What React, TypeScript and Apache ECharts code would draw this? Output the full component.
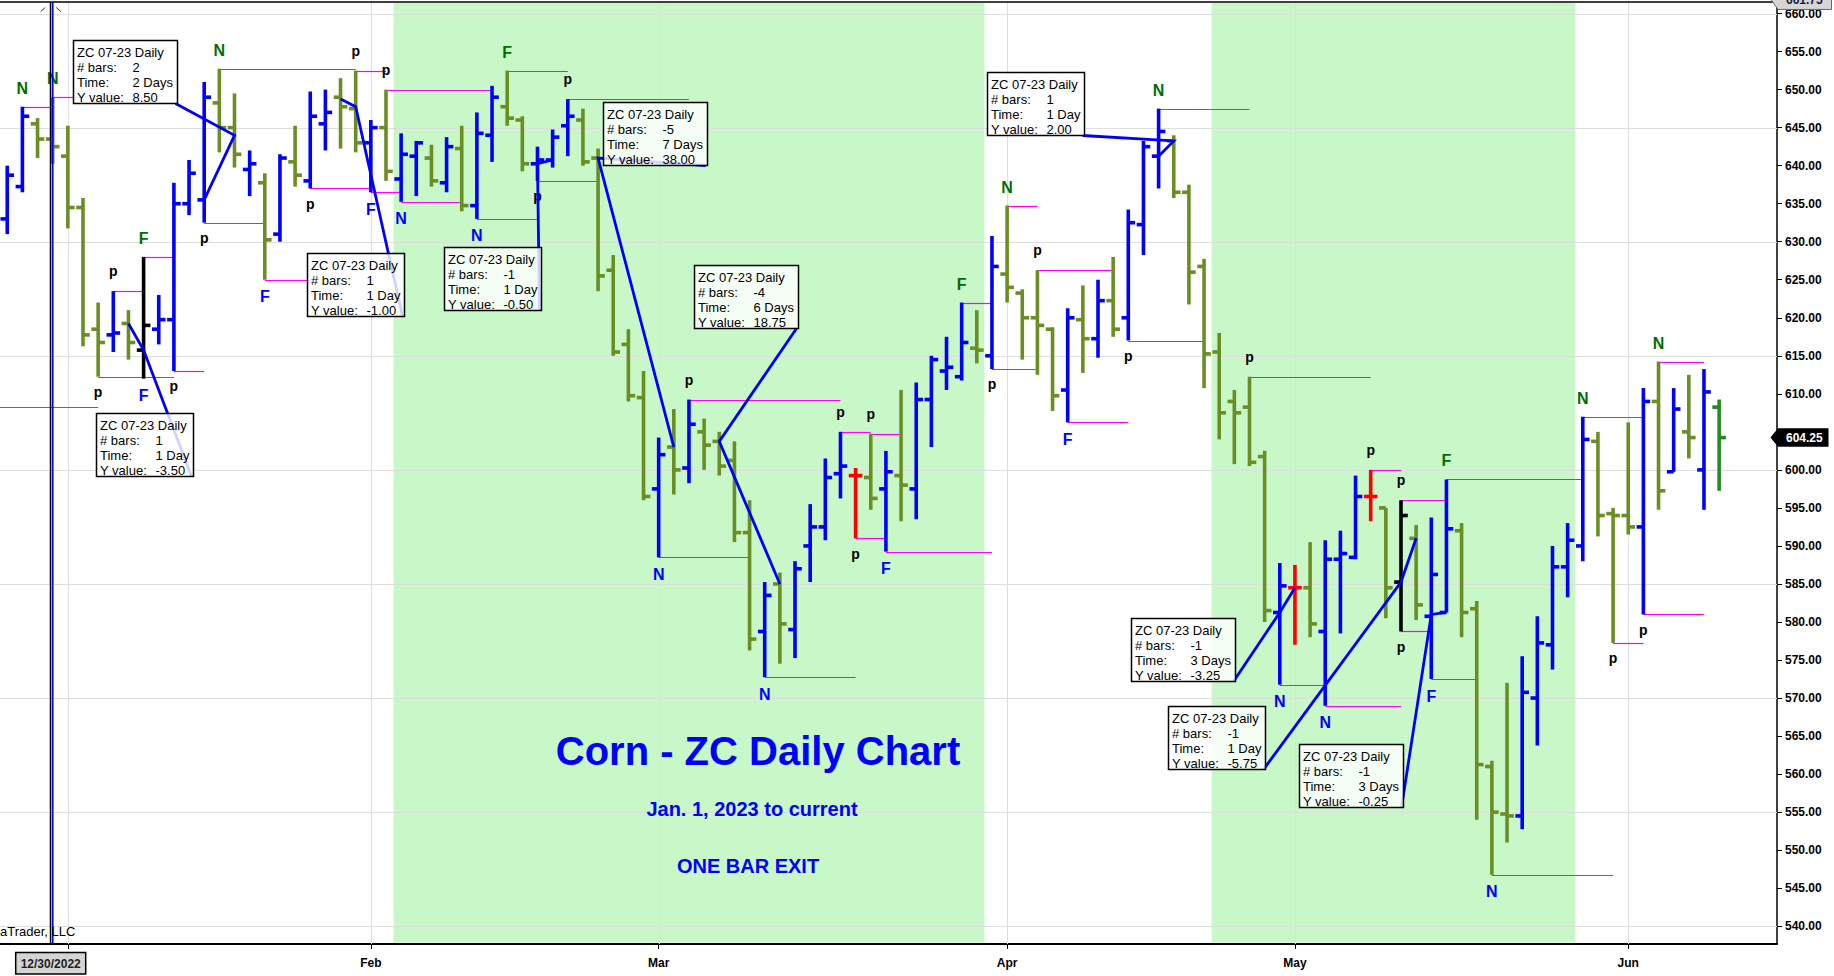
import React, { useEffect, useRef } from 'react';
import * as echarts from 'echarts';

// ---------------- DATA ----------------
// Daily OHLC bars, index 0 = 12/27/2022 ... index 113 = 6/9/2023
const opens = [
  633.0, 637.25, 645.5, 643.5, 641.25, 634.5, 618.5, 617.75, 619.25, 615.75,
  618.5, 619.75, 635.0, 635.5, 648.25, 645.0, 639.5, 637.75, 631.0, 640.5,
  638.0, 645.5, 649.0, 647.5, 643.0, 645.0, 638.25, 641.25, 641.0, 637.75,
  642.25, 634.75, 644.0, 647.75, 646.0, 640.25, 640.75, 645.25, 646.0, 641.0,
  626.25, 616.5, 609.5, 597.5, 603.0, 600.25, 605.0, 603.75, 601.25, 591.75,
  578.75, 585.0, 579.0, 590.0, 592.5, 599.5, 599.25, 599.0, 597.5, 599.25,
  597.5, 609.25, 613.0, 612.25, 616.0, 615.0, 625.75, 623.25, 620.0, 618.5,
  610.5, 619.75, 617.25, 622.25, 620.0, 632.25, 641.25, 643.25, 636.5, 626.75,
  615.5, 609.0, 608.25, 601.75, 581.25, 584.5, 584.5, 578.75, 588.25, 588.5,
  596.5, 595.0, 585.25, 591.0, 580.75, 581.25, 592.0, 581.75, 561.0, 554.75,
  554.5, 570.0, 577.0, 587.25, 590.0, 603.75, 594.25, 594.0, 592.5, 609.0,
  599.75, 605.0, 600.0, 608.25,
];
const highs = [
  640.0, 647.75, 646.25, 649.0, 645.25, 635.75, 622.0, 623.5, 621.0, 628.0,
  623.0, 637.75, 640.75, 651.0, 652.75, 649.5, 642.0, 639.0, 641.5, 645.25,
  649.75, 650.0, 651.5, 652.5, 646.0, 650.0, 644.25, 643.25, 642.75, 643.75,
  645.25, 647.0, 650.5, 652.5, 646.5, 642.5, 644.75, 648.75, 647.5, 642.25,
  628.25, 618.5, 613.0, 604.25, 608.0, 609.25, 606.75, 605.0, 603.75, 596.0,
  585.25, 586.5, 588.0, 595.5, 601.5, 605.0, 600.25, 604.75, 602.5, 610.5,
  611.5, 615.0, 617.5, 622.0, 621.0, 630.75, 634.75, 623.75, 626.25, 618.75,
  621.25, 624.25, 625.0, 628.0, 634.25, 643.25, 647.5, 644.0, 637.5, 627.75,
  618.0, 610.5, 612.25, 602.5, 587.75, 587.5, 590.5, 590.75, 592.0, 599.25,
  600.0, 595.0, 596.0, 592.75, 593.75, 598.75, 593.0, 582.75, 561.75, 572.0,
  575.5, 580.75, 590.0, 593.0, 607.0, 605.0, 595.0, 606.25, 610.75, 614.25,
  610.75, 612.5, 613.25, 609.25,
];
const lows = [
  631.0, 636.5, 641.0, 640.25, 631.75, 616.25, 612.25, 615.5, 614.5, 612.0,
  616.5, 613.0, 633.5, 632.5, 641.75, 639.75, 636.0, 625.0, 630.0, 637.25,
  637.0, 642.0, 642.25, 641.75, 636.5, 638.0, 635.25, 636.0, 637.25, 636.5,
  634.0, 633.0, 640.5, 645.25, 639.25, 638.0, 639.75, 641.25, 640.0, 623.5,
  615.0, 609.0, 596.0, 588.5, 596.75, 598.25, 600.0, 599.25, 590.5, 576.25,
  572.75, 574.5, 575.25, 585.25, 590.75, 596.25, 591.0, 594.75, 589.25, 593.25,
  593.5, 603.0, 610.5, 611.75, 614.0, 613.25, 622.0, 614.5, 612.5, 607.75,
  606.25, 612.75, 614.75, 617.5, 617.0, 628.25, 637.0, 635.75, 621.75, 610.75,
  604.0, 600.75, 600.5, 580.0, 571.75, 577.0, 578.0, 569.0, 578.5, 588.25,
  593.25, 580.5, 578.75, 580.25, 572.5, 581.25, 578.0, 554.0, 546.75, 551.0,
  552.75, 563.75, 573.75, 583.25, 588.0, 591.25, 577.25, 591.5, 581.0, 594.75,
  599.75, 601.5, 594.75, 597.25,
];
const closes = [
  638.75, 646.5, 643.5, 642.5, 634.5, 617.75, 616.75, 618.0, 616.75, 619.0,
  619.75, 635.0, 639.0, 649.0, 645.0, 641.5, 640.25, 630.25, 641.0, 638.75,
  646.5, 647.0, 647.75, 643.0, 645.0, 639.25, 641.5, 643.0, 638.0, 642.5,
  634.75, 644.25, 649.0, 646.25, 640.25, 640.75, 643.75, 646.5, 640.5, 625.5,
  615.5, 609.75, 596.5, 602.0, 600.0, 606.0, 603.25, 600.5, 591.75, 577.75,
  583.5, 579.75, 587.0, 592.5, 599.0, 600.5, 599.25, 596.25, 599.75, 598.0,
  609.25, 614.5, 613.5, 616.75, 615.75, 626.75, 624.0, 620.0, 619.0, 609.75,
  620.0, 617.25, 622.25, 618.5, 632.5, 642.5, 644.5, 636.5, 626.0, 615.25,
  607.5, 607.5, 601.0, 581.5, 584.75, 584.5, 579.75, 588.25, 589.0, 596.5,
  596.5, 584.5, 594.0, 582.25, 586.25, 592.25, 581.25, 561.25, 555.0, 554.5,
  570.75, 577.25, 587.25, 590.75, 604.0, 594.0, 594.0, 592.5, 609.0, 597.25,
  608.0, 604.25, 610.25, 604.25,
];
// bar type: b = up (blue), g = down (green), r = red, k = black, f = last bar
const barTypes = (
  'bbgggggbgk' + 'bbbbggbgbg' + 'bbggbgbbgb' + 'gbbggbbbgg' + 'gggbgbgggg' +
  'bgbbbbrgbg' + 'bbbbgbgggg' + 'bgbgbbbggg' + 'ggggbrgbbb' + 'rgkgbbgggg' +
  'bbbbbgggbg' + 'bgbf'
).split('');

// Month ticks (trading-day index) and labels
const monthTickIdx = [4, 24, 43, 66, 85, 107];
const monthLabelIdx = [24, 43, 66, 85, 107];
const monthLabels = ['Feb', 'Mar', 'Apr', 'May', 'Jun'];
const priceTicks = [540, 545, 550, 555, 560, 565, 570, 575, 580, 585, 590, 595, 600, 605, 610, 615, 620, 625, 630, 635, 640, 645, 650, 655, 660];
// 605.00 label sits under the last-price marker in the reference, so it is not shown
const priceLabels = [540, 545, 550, 555, 560, 565, 570, 575, 580, 585, 590, 595, 600, 610, 615, 620, 625, 630, 635, 640, 645, 650, 655, 660];
const hGridPrices = [540, 555, 570, 585, 600, 615, 630, 645, 660];
const vGridIdx = [4, 24, 43, 66, 85, 107];

// shaded time spans (trading-day index bounds)
const shadeFrom = [25.5, 79.5];
const shadeTo = [64.5, 103.5];

// swing labels
const labelIdx = [1, 3, 6, 7, 9, 9, 11, 13, 14, 17, 20, 23, 24, 25, 26, 31, 33, 35, 37, 43, 45, 50, 55, 56, 57, 58, 63, 65, 66, 68, 70, 74, 76, 82, 84, 87, 90, 92, 92, 94, 95, 98, 104, 106, 108, 109];
const labelText = ['N', 'N', 'p', 'p', 'F', 'F', 'p', 'p', 'N', 'F', 'p', 'p', 'F', 'p', 'N', 'N', 'F', 'p', 'p', 'N', 'p', 'N', 'p', 'p', 'p', 'F', 'F', 'p', 'N', 'p', 'F', 'p', 'N', 'p', 'N', 'N', 'p', 'p', 'p', 'F', 'F', 'N', 'N', 'p', 'p', 'N'];
const labelSide = ['a', 'a', 'b', 'a', 'a', 'b', 'b', 'b', 'a', 'b', 'b', 'a', 'b', 'a', 'b', 'b', 'a', 'b', 'a', 'b', 'a', 'b', 'a', 'b', 'a', 'b', 'a', 'b', 'a', 'a', 'b', 'b', 'a', 'a', 'b', 'b', 'a', 'a', 'b', 'b', 'a', 'b', 'a', 'b', 'b', 'a'];

// magenta pivot levels
const levelFrom = [-1, 1, 3, 6, 7, 9, 11, 13, 14, 17, 20, 23, 24, 25, 26, 31, 33, 35, 37, 43, 45, 50, 55, 56, 57, 58, 63, 65, 66, 68, 70, 74, 76, 82, 84, 87, 90, 92, 92, 94, 95, 98, 104, 106, 108, 109];
const levelTo = [6, 3, 5, 11, 9, 11, 13, 17, 23, 20, 24, 25, 26, 32, 30, 35, 37, 39, 45, 49, 55, 56, 57, 58, 59, 65, 65, 68, 68, 73, 74, 79, 82, 90, 87, 92, 92, 95, 94, 97, 104, 106, 108, 108, 112, 112];
const levelPrice = [608.25, 647.75, 649.0, 612.25, 623.5, 628.0, 613.0, 632.5, 652.75, 625.0, 637.0, 652.5, 636.5, 650.0, 635.25, 633.0, 652.5, 638.0, 648.75, 588.5, 609.25, 572.75, 605.0, 591.0, 604.75, 589.25, 622.0, 613.25, 634.75, 626.25, 606.25, 617.0, 647.5, 612.25, 571.75, 569.0, 600.0, 596.0, 578.75, 572.5, 598.75, 546.75, 607.0, 577.25, 581.0, 614.25];

// measurement callouts
const measAIdx = [13, 8, 22, 36, 44, 51, 76, 85, 93, 95];
const measAPrice = [635.5, 619.25, 648.75, 640.75, 603.0, 585.0, 641.25, 584.5, 591.0, 581.25];
const measBIdx = [15, 9, 23, 35, 39, 47, 77, 84, 92, 94];
const measBPrice = [644.0, 615.75, 647.75, 640.25, 641.0, 603.75, 643.25, 581.25, 585.25, 581.0];
const measBars = ['2', '1', '1', '-1', '-5', '-4', '1', '-1', '-1', '-1'];
const measTime = ['2 Days', '1 Day', '1 Day', '1 Day', '7 Days', '6 Days', '1 Day', '3 Days', '1 Day', '3 Days'];
const measY = ['8.50', '-3.50', '-1.00', '-0.50', '38.00', '18.75', '2.00', '-3.25', '-5.75', '-0.25'];
const calloutIdx = [4.34, 5.86, 19.77, 28.83, 39.3, 45.33, 64.69, 74.18, 76.62, 85.24];
const calloutPrice = [656.58, 607.52, 628.54, 629.33, 648.38, 626.96, 652.33, 580.59, 568.91, 563.98];

const CURSOR_IDX = 3;
const CURSOR_LABEL = '12/30/2022';
const LAST_PRICE = 604.25;
const RANGE_HIGH = 661.75;

// ---------------- STYLE ----------------
const FONT = "'Liberation Sans', Arial, Helvetica, sans-serif";
const X_MIN = -0.479;
const X_MAX = 116.82;
const Y_MIN = 537.66;
const Y_MAX = 661.52;
const palette: Record<string, string> = { b: '#0000ff', g: '#6b8e23', r: '#ff0000', k: '#000000', f: '#228b22' };

let measureCtx: any = null;
function textWidth(t: string, font: string) {
  if (!measureCtx) measureCtx = document.createElement('canvas').getContext('2d');
  measureCtx.font = font;
  return measureCtx.measureText(t).width;
}

function txt(text: string, x: number, y: number, font: string, fill: string, align = 'left', valign = 'middle') {
  return {
    type: 'text',
    style: { text, x, y, font, fill, textAlign: align, textVerticalAlign: valign, align, verticalAlign: valign },
  };
}

function buildOption() {
  const ohlcData = opens.map((o, i) => [i, o, highs[i], lows[i], closes[i]]);
  const gridData = [
    ...hGridPrices.map((p) => [0, p]),
    ...vGridIdx.map((i) => [1, i]),
  ];
  const shadeData = shadeFrom.map((s, i) => [s, shadeTo[i]]);
  const levelData = levelFrom.map((f, i) => [f, levelTo[i], levelPrice[i]]);
  const labelData = labelIdx.map((idx, i) => [idx, labelSide[i] === 'a' ? highs[idx] : lows[idx]]);
  const measData = measAIdx.map((a, i) => [a, measAPrice[i], measBIdx[i], measBPrice[i], calloutIdx[i], calloutPrice[i]]);

  const boxFont = `13px ${FONT}`;

  return {
    animation: false,
    backgroundColor: '#ffffff',
    grid: { left: 0, right: 57, top: 2, bottom: 32, containLabel: false },
    xAxis: {
      type: 'value',
      min: X_MIN,
      max: X_MAX,
      axisLine: { show: true, onZero: false, lineStyle: { color: '#000', width: 2 } },
      axisTick: { show: true, customValues: monthTickIdx, length: 5, lineStyle: { color: '#000', width: 1 } },
      axisLabel: {
        show: true,
        customValues: monthLabelIdx,
        formatter: (v: number) => {
          const k = monthLabelIdx.indexOf(Math.round(v));
          return k >= 0 ? monthLabels[k] : '';
        },
        color: '#000',
        fontWeight: 'bold',
        fontSize: 12,
        fontFamily: FONT,
        margin: 13,
      },
      splitLine: { show: false },
    },
    yAxis: {
      type: 'value',
      position: 'right',
      min: Y_MIN,
      max: Y_MAX,
      axisLine: { show: true, onZero: false, lineStyle: { color: '#000', width: 1.5 } },
      axisTick: { show: true, customValues: priceTicks, length: 5, lineStyle: { color: '#000', width: 1 } },
      axisLabel: {
        show: true,
        customValues: priceLabels,
        formatter: (v: number) => v.toFixed(2),
        color: '#000',
        fontWeight: 'bold',
        fontSize: 12,
        fontFamily: FONT,
        margin: 8,
      },
      splitLine: { show: false },
    },
    series: [
      {
        type: 'custom',
        name: 'shade',
        z: 1,
        silent: true,
        data: shadeData,
        renderItem: (params: any, api: any) => {
          const cs = params.coordSys;
          const x0 = api.coord([api.value(0), 600])[0];
          const x1 = api.coord([api.value(1), 600])[0];
          return {
            type: 'rect',
            shape: { x: x0, y: cs.y + 1, width: x1 - x0, height: cs.height - 2.5 },
            style: { fill: '#c8f7c8' },
          };
        },
      },
      {
        type: 'custom',
        name: 'gridlines',
        z: 2,
        silent: true,
        data: gridData,
        renderItem: (params: any, api: any) => {
          const cs = params.coordSys;
          const kind = api.value(0);
          const v = api.value(1);
          if (kind === 0) {
            const y = Math.round(api.coord([0, v])[1]) + 0.5;
            return { type: 'line', shape: { x1: cs.x, y1: y, x2: cs.x + cs.width, y2: y }, style: { stroke: '#dedede', lineWidth: 1 } };
          }
          const x = Math.round(api.coord([v, 600])[0]) + 0.5;
          return { type: 'line', shape: { x1: x, y1: cs.y, x2: x, y2: cs.y + cs.height }, style: { stroke: '#dedede', lineWidth: 1 } };
        },
      },
      {
        type: 'custom',
        name: 'levels',
        z: 3,
        silent: true,
        data: levelData,
        renderItem: (params: any, api: any) => {
          const cs = params.coordSys;
          const from = api.value(0);
          const p = api.value(2);
          const b = api.coord([api.value(1), p]);
          const x0 = from < 0 ? cs.x : api.coord([from, p])[0];
          const y = Math.round(b[1]) + 0.5;
          return { type: 'line', shape: { x1: x0, y1: y, x2: b[0], y2: y }, style: { stroke: '#ff00ff', lineWidth: 1.2 } };
        },
      },
      {
        type: 'custom',
        name: 'ZC 07-23 Daily',
        z: 4,
        data: ohlcData,
        encode: { x: 0, y: [1, 2, 3, 4] },
        renderItem: (params: any, api: any) => {
          const i = api.value(0);
          const pO = api.coord([i, api.value(1)]);
          const pH = api.coord([i, api.value(2)]);
          const pL = api.coord([i, api.value(3)]);
          const pC = api.coord([i, api.value(4)]);
          const color = palette[barTypes[params.dataIndex]] || '#0000ff';
          const w = 3.6;
          const t = 6.8;
          const st = { stroke: color, lineWidth: w };
          return {
            type: 'group',
            children: [
              { type: 'line', shape: { x1: pH[0], y1: pH[1], x2: pL[0], y2: pL[1] }, style: st },
              { type: 'line', shape: { x1: pO[0] - t, y1: pO[1], x2: pO[0], y2: pO[1] }, style: st },
              { type: 'line', shape: { x1: pC[0], y1: pC[1], x2: pC[0] + t, y2: pC[1] }, style: st },
            ],
          };
        },
      },
      {
        type: 'custom',
        name: 'swingLabels',
        z: 5,
        silent: true,
        data: labelData,
        renderItem: (params: any, api: any) => {
          const k = params.dataIndex;
          const p = api.coord([api.value(0), api.value(1)]);
          const text = labelText[k];
          const above = labelSide[k] === 'a';
          let y: number;
          let fill: string;
          let font: string;
          if (text === 'p') {
            y = above ? p[1] - 20 : p[1] + 15.3;
            fill = '#000';
            font = `bold 14px ${FONT}`;
          } else {
            y = above ? p[1] - 18.5 : p[1] + 17;
            fill = above ? '#006e00' : '#0000ff';
            font = `bold 16px ${FONT}`;
          }
          return txt(text, p[0], y, font, fill, 'center', 'middle');
        },
      },
      {
        type: 'custom',
        name: 'measurements',
        z: 6,
        silent: true,
        data: measData,
        renderItem: (params: any, api: any) => {
          const k = params.dataIndex;
          const a = api.coord([api.value(0), api.value(1)]);
          const b = api.coord([api.value(2), api.value(3)]);
          const tl = api.coord([api.value(4), api.value(5)]);
          const valW = Math.max(textWidth(measBars[k], boxFont), textWidth(measTime[k], boxFont), textWidth(measY[k], boxFont));
          const w = Math.round(Math.max(textWidth('ZC 07-23 Daily', boxFont) + 8, 59 + valW + 4.5));
          const h = 63;
          const x = Math.round(tl[0]) + 0.5;
          const y = Math.round(tl[1]) + 0.5;
          const corner = [x + w - 2, y + h];
          const lines = [
            ['ZC 07-23 Daily', ''],
            ['# bars:', measBars[k]],
            ['Time:', measTime[k]],
            ['Y value:', measY[k]],
          ];
          const children: any[] = [
            { type: 'polyline', shape: { points: [a, b, corner] }, style: { stroke: '#0000ff', lineWidth: 2.8, fill: 'none' } },
            { type: 'rect', shape: { x, y, width: w, height: h }, style: { fill: 'rgba(255,255,255,0.82)', stroke: '#000', lineWidth: 1.5 } },
          ];
          lines.forEach((ln, j) => {
            const ty = y + 11.5 + 15 * j;
            children.push(txt(ln[0], x + 3.5, ty, boxFont, '#000', 'left', 'middle'));
            if (ln[1]) children.push(txt(ln[1], x + 59, ty, boxFont, '#000', 'left', 'middle'));
          });
          return { type: 'group', children };
        },
      },
      {
        type: 'custom',
        name: 'frame',
        z: 7,
        silent: true,
        data: [[CURSOR_IDX, LAST_PRICE, RANGE_HIGH]],
        renderItem: (params: any, api: any) => {
          const cs = params.coordSys;
          const cx = api.coord([api.value(0), 600])[0];
          const right = cs.x + cs.width;
          const top = cs.y;
          const bottom = cs.y + cs.height;
          const yLast = api.coord([0, api.value(1)])[1];
          const yHigh = api.coord([0, api.value(2)])[1];
          const hh = 9.2;
          const bold12 = `bold 12px ${FONT}`;
          return {
            type: 'group',
            children: [
              { type: 'line', shape: { x1: cs.x, y1: top, x2: right, y2: top }, style: { stroke: '#000', lineWidth: 1.5 } },
              { type: 'line', shape: { x1: cx - 2.2, y1: top, x2: cx - 2.2, y2: bottom }, style: { stroke: '#000', lineWidth: 1.5 } },
              { type: 'line', shape: { x1: cx, y1: top, x2: cx, y2: bottom }, style: { stroke: '#0000ff', lineWidth: 1.7 } },
              { type: 'line', shape: { x1: cx - 12, y1: top + 9.5, x2: cx - 7.5, y2: top + 5.5 }, style: { stroke: '#333', lineWidth: 1 } },
              { type: 'line', shape: { x1: cx + 3.5, y1: top + 5.5, x2: cx + 8, y2: top + 9.5 }, style: { stroke: '#333', lineWidth: 1 } },
              { type: 'rect', shape: { x: cx - 37, y: bottom + 8.5, width: 70, height: 21.5 }, style: { fill: '#d4d4d4', stroke: '#000', lineWidth: 1.5 } },
              txt(CURSOR_LABEL, cx - 2, bottom + 19.5, bold12, '#1e1e1e', 'center', 'middle'),
              {
                type: 'polygon',
                shape: { points: [[right - 6.5, yLast], [right + 1, yLast - hh], [right + 51.5, yLast - hh], [right + 51.5, yLast + hh], [right + 1, yLast + hh]] },
                style: { fill: '#000' },
              },
              txt(api.value(1).toFixed(2), right + 9, yLast, bold12, '#ffffff', 'left', 'middle'),
              {
                type: 'polygon',
                shape: { points: [[right - 5.5, yHigh], [right + 1, yHigh - hh], [right + 54.5, yHigh - hh], [right + 54.5, yHigh + hh], [right + 1, yHigh + hh]] },
                style: { fill: '#d6d6d6', stroke: '#666', lineWidth: 1 },
              },
              txt(api.value(2).toFixed(2), right + 9, yHigh, bold12, '#1a1a40', 'left', 'middle'),
            ],
          };
        },
      },
    ],
    graphic: [
      { ...txt('Corn - ZC Daily Chart', 758, 751, `bold 40px ${FONT}`, '#0000ff', 'center', 'middle'), z: 100 },
      { ...txt('Jan. 1, 2023 to current', 752, 809, `bold 20px ${FONT}`, '#0000ff', 'center', 'middle'), z: 100 },
      { ...txt('ONE BAR EXIT', 748, 866, `bold 20px ${FONT}`, '#0000ff', 'center', 'middle'), z: 100 },
      { ...txt('aTrader, LLC', 0, 931, `13px ${FONT}`, '#000', 'left', 'middle'), z: 100 },
    ],
  };
}

export default function App() {
  const ref = useRef<HTMLDivElement>(null);
  useEffect(() => {
    if (!ref.current) return;
    const chart = echarts.init(ref.current, null, { renderer: 'svg' });
    chart.setOption(buildOption() as any);
    return () => {
      chart.dispose();
    };
  }, []);
  return (
    <div
      ref={ref}
      style={{ position: 'absolute', left: 0, top: 0, width: 1834, height: 976, background: '#fff' }}
    />
  );
}
